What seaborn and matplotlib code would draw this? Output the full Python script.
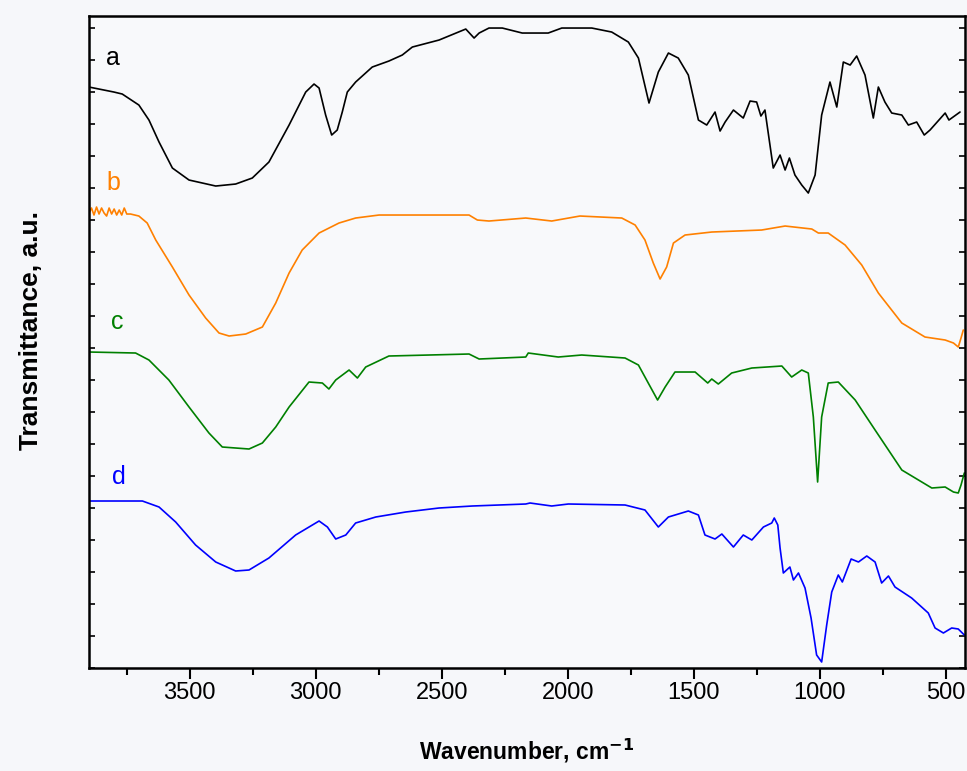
import matplotlib

matplotlib.use("Agg")

import matplotlib.pyplot as plt
import seaborn as sns
import pandas as pd
from matplotlib.ticker import MultipleLocator

# ---- spectra (wavenumber in cm-1, transmittance in a.u.) ----
wn_a = [3900, 3801, 3768, 3702, 3662, 3622, 3569, 3503, 3397, 3318, 3252, 3186, 3106,
        3040, 3007, 2987, 2961, 2937, 2915, 2895, 2875, 2842, 2776, 2710, 2657, 2617,
        2511, 2405, 2372, 2352, 2313, 2260, 2181, 2078, 2024, 1905, 1826, 1760, 1720,
        1678, 1641, 1601, 1562, 1522, 1482, 1449, 1416, 1396, 1376, 1343, 1304, 1277,
        1251, 1234, 1218, 1185, 1158, 1138, 1121, 1099, 1072, 1046, 1019, 993, 960,
        933, 907, 880, 854, 821, 788, 768, 742, 715, 675, 649, 616, 586, 563, 503,
        488, 444]
t_a = [581, 576, 574, 563, 548, 526, 500, 488, 482, 484, 490, 506, 543,
       576, 584, 580, 553, 533, 538, 556, 576, 586, 601, 607, 613, 621,
       628, 639, 630, 635, 640, 640, 635, 635, 640, 640, 636, 626, 610,
       565, 596, 615, 610, 593, 548, 543, 556, 537, 546, 558, 550, 567,
       566, 552, 558, 500, 513, 498, 510, 493, 483, 475, 493, 553, 586,
       561, 606, 603, 612, 593, 550, 581, 566, 555, 553, 543, 546, 533, 538, 555,
       548, 556]

wn_b = [3900, 3890, 3880, 3870, 3860, 3850, 3840, 3830, 3820, 3810, 3800, 3790, 3780,
        3770, 3760, 3750, 3735, 3702, 3669, 3635, 3569, 3503, 3437, 3384, 3344,
        3278, 3212, 3159, 3106, 3054, 2987, 2908, 2842, 2749, 2392, 2359, 2313,
        2167, 2064, 1952, 1786, 1733, 1694, 1661, 1634, 1608, 1581, 1535, 1429,
        1231, 1138, 1032, 1006, 967, 900, 834, 768, 675, 583, 503, 470, 451, 440, 431]
t_b = [455, 460, 453, 461, 454, 460, 455, 452, 460, 454, 459, 453, 458,
       453, 460, 454, 454, 452, 445, 428, 401, 373, 350, 335, 332,
       334, 341, 365, 395, 418, 435, 445, 450, 453, 453, 448, 447,
       450, 447, 452, 450, 443, 428, 405, 389, 401, 425, 433, 436,
       438, 442, 439, 435, 435, 423, 403, 375, 345, 331, 328, 325, 321, 330, 338]

wn_c = [3900, 3715, 3662, 3583, 3503, 3424, 3371, 3265, 3212, 3159, 3106, 3027, 2974,
        2948, 2921, 2868, 2835, 2802, 2710, 2392, 2352, 2167, 2157, 2038, 1945, 1773,
        1720, 1681, 1644, 1614, 1575, 1495, 1445, 1429, 1403, 1350, 1270, 1151, 1112,
        1072, 1046, 1026, 1009, 993, 967, 927, 860, 781, 675, 556, 503, 470, 451, 440, 427]
t_c = [316, 315, 308, 288, 261, 235, 221, 219, 225, 241, 261, 286, 285,
       279, 288, 298, 290, 301, 312, 314, 309, 311, 315, 311, 313, 310,
       303, 285, 268, 281, 296, 296, 285, 289, 284, 295, 300, 302, 291,
       298, 295, 251, 186, 251, 285, 286, 268, 238, 198, 180, 181, 176, 175, 183, 195]

wn_d = [3900, 3688, 3622, 3556, 3477, 3397, 3318, 3265, 3186, 3080, 2987, 2954, 2921,
        2881, 2842, 2762, 2643, 2511, 2379, 2167, 2150, 2064, 1998, 1773, 1694, 1641,
        1601, 1522, 1482, 1456, 1416, 1389, 1343, 1304, 1270, 1224, 1191, 1181, 1167,
        1158, 1145, 1119, 1105, 1085, 1059, 1035, 1013, 993, 973, 953, 927, 911, 876,
        847, 814, 781, 755, 728, 702, 636, 570, 543, 510, 477, 451, 427]
t_d = [167, 167, 161, 146, 123, 106, 97, 98, 110, 133, 147, 141, 129,
       133, 145, 151, 156, 160, 162, 164, 165, 162, 164, 163, 158, 141,
       151, 157, 153, 133, 129, 134, 121, 133, 128, 141, 145, 150, 143,
       120, 95, 101, 88, 95, 80, 50, 13, 6, 43, 76, 93, 86, 109,
       106, 112, 106, 85, 92, 81, 70, 55, 40, 35, 40, 39, 33]

names = ["a", "b", "c", "d"]
colors = ["#000000", "#FF8000", "#008000", "#0000FF"]
label_wn = [3805, 3805, 3789, 3781]
label_t = [610, 485, 346, 191]

frames = []
for name, wn, t in zip(names, [wn_a, wn_b, wn_c, wn_d], [t_a, t_b, t_c, t_d]):
    frames.append(pd.DataFrame({"wavenumber": wn, "transmittance": t, "sample": name}))
df = pd.concat(frames, ignore_index=True)

sns.set_style("ticks", {"axes.edgecolor": "black", "text.color": "black",
                        "axes.labelcolor": "black", "xtick.color": "black",
                        "ytick.color": "black"})
plt.rcParams["font.family"] = ["Liberation Sans", "DejaVu Sans"]

fig = plt.figure(figsize=(9.67, 7.71), dpi=100, facecolor="#f6f7fa")
ax = fig.add_axes([0.092, 0.1336, 0.906, 0.8456])
ax.set_facecolor("#f8f9fb")

sns.lineplot(data=df, x="wavenumber", y="transmittance", hue="sample",
             palette=dict(zip(names, colors)), sort=False, estimator=None,
             linewidth=1.2, legend=False, ax=ax)

for name, c, x, y in zip(names, colors, label_wn, label_t):
    ax.text(x, y, name, color=c, fontsize=18, ha="center", va="center")

ax.set_xlim(3900, 424)
ax.set_ylim(0, 652)
ax.xaxis.set_major_locator(MultipleLocator(500))
ax.xaxis.set_minor_locator(MultipleLocator(250))
ax.yaxis.set_major_locator(MultipleLocator(32))
ax.tick_params(axis="x", which="major", direction="out", length=8, width=1.5,
               labelsize=17, pad=2, colors="black")
ax.tick_params(axis="x", which="minor", direction="out", length=5, width=1.5)
ax.tick_params(axis="y", which="both", direction="in", length=4, width=1.2,
               left=True, right=True, labelleft=False)
for s in ax.spines.values():
    s.set_linewidth(1.8)
    s.set_color("black")
    s.set_visible(True)

ax.set_xlabel("Wavenumber, cm$^{\\mathbf{-1}}$", fontsize=16.5, fontweight="bold",
              color="black")
ax.set_ylabel("Transmittance, a.u.", fontsize=19, fontweight="bold", color="black")
ax.xaxis.set_label_coords(0.5, -0.105)
ax.yaxis.set_label_coords(-0.052, 0.518)

plt.savefig("out.png", dpi=100, facecolor=fig.get_facecolor())
plt.close()
